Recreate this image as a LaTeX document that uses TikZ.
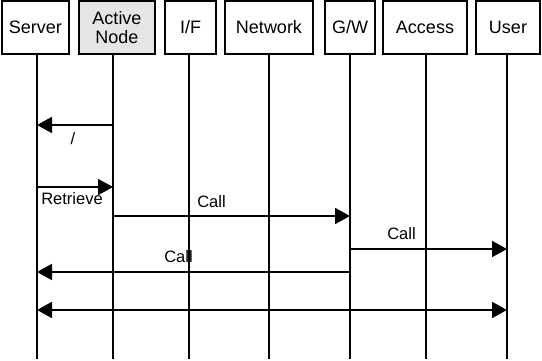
\documentclass[tikz,border=0pt]{standalone}
\usepackage{fontspec}
\setmainfont{Liberation Sans}
\usetikzlibrary{arrows.meta,positioning}

\begin{document}
\begin{tikzpicture}
		[x=1pt,y=-1pt,
		box/.style={draw,line width=1.8pt,minimum height=53pt,inner sep=0pt,align=center,font=\fontsize{18}{19}\selectfont},
		life/.style={line width=1.8pt},
		tip/.tip={Triangle[length=15pt,width=16pt]},
		msg/.style={line width=1.8pt,-tip},
		lbl/.style={font=\fontsize{16.5}{18}\selectfont,inner sep=0pt}]
		\useasboundingbox (0,0) rectangle (542,361);
		
		\node[box,minimum width=67pt] (srv) at (35.3,27.5) {Server};
		\node[box,minimum width=76pt,fill=black!10] (act) at (117,27.5) {Active\\Node};
		\node[box,minimum width=51pt] (if) at (190.5,27.5) {I/F};
		\node[box,minimum width=88pt] (net) at (269,27.5) {Network};
		\node[box,minimum width=50pt] (gw) at (350,27.5) {G/W};
		\node[box,minimum width=84pt] (acc) at (425,27.5) {Access};
		\node[box,minimum width=64pt] (usr) at (508,27.5) {User};
		
		% lifelines
		\foreach \n/\x in {srv/37,act/113,if/189,net/269,gw/350,acc/426,usr/507}
		{
			\coordinate (\n-top) at (\x,54);
			\coordinate (\n-bot) at (\x,359);
			\draw[life] (\n-top) -- (\n-bot);
		}
		
		\coordinate (a1) at (113,125);
		\coordinate (s1) at (37,125);
		\coordinate (s2) at (37,187);
		\coordinate (a2) at (113,187);
		\coordinate (a3) at (113,216);
		\coordinate (g3) at (350,216);
		\coordinate (g4) at (350,249);
		\coordinate (u4) at (507,249);
		\coordinate (g5) at (350,272);
		\coordinate (s5) at (37,272);
		\coordinate (s6) at (37,310);
		\coordinate (u6) at (507,310);
		
		\draw[msg] (a1) to node [lbl,below=7pt,xshift=-2pt] {/} (s1);
		\draw[msg] (s2) to node [lbl,below=5pt,xshift=-3pt] {Retrieve} (a2);
		\draw[msg] (a3) to node [lbl,above=7pt,xshift=-20pt] {Call} (g3);
		\draw[msg] (g4) to node [lbl,above=8pt,xshift=-27pt] {Call} (u4);
		\draw[msg] (g5) to node [lbl,above=8pt,xshift=-15pt] {Call} (s5);
		\draw[msg,tip-tip] (s6) to (u6);
		\end{tikzpicture}
\end{document}
